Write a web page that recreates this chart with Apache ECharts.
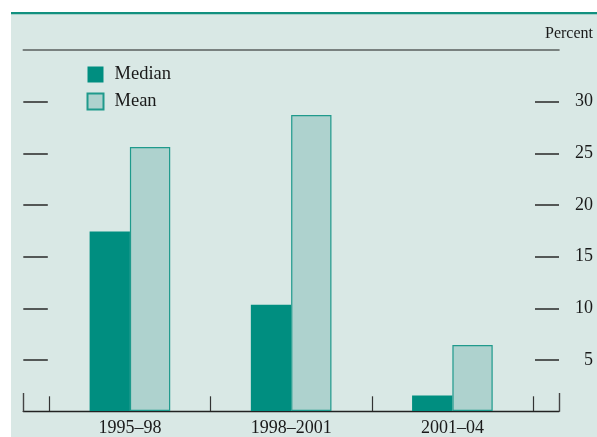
<!DOCTYPE html>
<html><head><meta charset="utf-8">
<script src="https://cdn.jsdelivr.net/npm/echarts@6/dist/echarts.min.js"></script>
<style>html,body{margin:0;padding:0;background:#fff}#c{width:597px;height:437px}</style>
</head><body><div id="c"></div>
<script>
const categories = ['1995\u201398', '1998\u20132001', '2001\u201304'];
const medianValues = [17.4, 10.3, 1.5];
const meanValues = [25.6, 28.7, 6.4];
const yTicks = [5, 10, 15, 20, 25, 30];

const W = 597, H = 437;
const TOP = 50, BOTTOM = 25.3;
const serif = '"Liberation Serif", "Times New Roman", serif';
const ink = '#1a1a1a';
const chart = echarts.init(document.getElementById('c'), null, {renderer: 'canvas'});
chart.setOption({
  backgroundColor: '#ffffff',
  animation: false,
  graphic: [
    {type: 'rect', z: -10, shape: {x: 11, y: 12, width: W - 11, height: H - 12}, style: {fill: '#d9e8e5'}},
    {type: 'rect', z: -9, shape: {x: 11, y: 12, width: W - 11, height: 2.2}, style: {fill: '#12907f'}},
    {type: 'text', right: 4, top: 26, style: {text: 'Percent', font: '16px ' + serif, fill: ink}}
  ],
  legend: {
    orient: 'vertical', left: 86.5, top: 65, padding: 0, itemWidth: 16, itemHeight: 16, itemGap: 8,
    icon: 'rect',
    textStyle: {fontFamily: serif, fontSize: 18.5, color: ink, padding: [0, 0, 0, 6]},
    data: ['Median', 'Mean']
  },
  grid: [
    {left: 49.3, right: W - 533, top: TOP, bottom: BOTTOM},
    {left: 23.3, right: W - 559, top: TOP, bottom: BOTTOM}
  ],
  xAxis: [
    {type: 'category', gridIndex: 0, data: categories, boundaryGap: true,
     axisLine: {show: false, onZero: false},
     axisTick: {show: true, inside: true, length: 14.7, lineStyle: {color: '#333', width: 1.2}},
     axisLabel: {fontFamily: serif, fontSize: 18, color: ink, margin: 8}},
    {type: 'value', gridIndex: 1, min: 0, max: 1, interval: 1, position: 'bottom',
     axisLine: {show: true, onZero: false, lineStyle: {color: '#222', width: 1.4}},
     axisTick: {show: true, inside: true, length: 18.7, lineStyle: {color: '#444', width: 1.4}},
     axisLabel: {show: false}, splitLine: {show: false}},
    {type: 'value', gridIndex: 1, min: 0, max: 1, interval: 1, position: 'top',
     axisLine: {show: true, onZero: false, lineStyle: {color: '#5a5f5d', width: 1.6}},
     axisTick: {show: false}, axisLabel: {show: false}, splitLine: {show: false}}
  ],
  yAxis: [
    {type: 'value', gridIndex: 0, min: 0, max: 35, interval: 5, show: false, splitLine: {show: false}},
    {type: 'value', gridIndex: 1, min: 0, max: 35, interval: 5, position: 'left', offset: 0,
     axisLine: {show: false, onZero: false}, splitLine: {show: false},
     axisTick: {show: true, inside: true, length: 24.5, customValues: yTicks, lineStyle: {color: '#333', width: 1.6}},
     axisLabel: {show: false}},
    {type: 'value', gridIndex: 1, min: 0, max: 35, interval: 5, position: 'right', offset: 0,
     axisLine: {show: false, onZero: false}, splitLine: {show: false},
     axisTick: {show: true, inside: true, length: 24, customValues: yTicks, lineStyle: {color: '#333', width: 1.6}},
     axisLabel: {show: true, inside: false, customValues: yTicks, align: 'right', margin: 34,
                 fontFamily: serif, fontSize: 18, color: ink}}
  ],
  series: [
    {name: 'Median', type: 'bar', xAxisIndex: 0, yAxisIndex: 0, data: medianValues,
     barWidth: '25%', barGap: '0%',
     itemStyle: {color: '#008e80'}},
    {name: 'Mean', type: 'bar', xAxisIndex: 0, yAxisIndex: 0, data: meanValues,
     barWidth: '25%', barGap: '0%',
     itemStyle: {color: '#aed2ce', borderColor: '#1f9a8c', borderWidth: 1.2}}
  ]
});
</script></body></html>
